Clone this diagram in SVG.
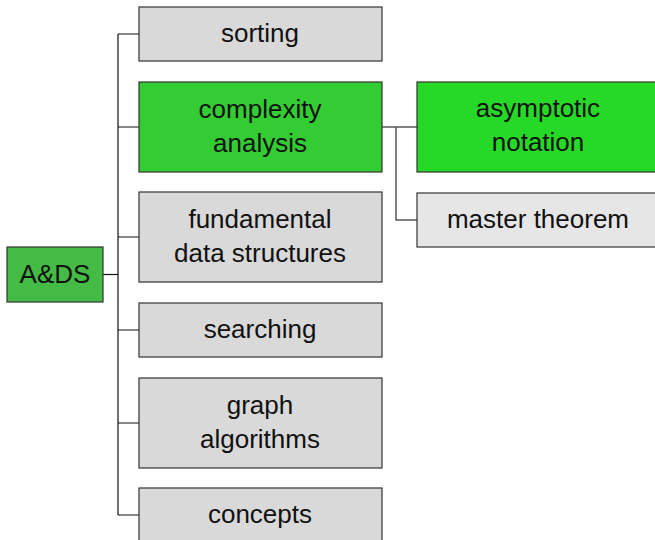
<svg xmlns="http://www.w3.org/2000/svg" width="655" height="540" viewBox="0 0 655 540">
<style>
.b{stroke:#333;stroke-width:1.2}
.g{fill:#d9d9d9}
.t{font-family:"Liberation Sans",Arial,sans-serif;font-size:26px;fill:#111;text-anchor:middle}
.c{fill:none;stroke:#111;stroke-width:1.2}
.c2{fill:none;stroke:#555;stroke-width:1.5}
</style>
<rect width="655" height="540" fill="#fff"/>
<g id="connectors">
<path class="c" d="M118 34V515M118 34H139M118 127H139M118 237H139M118 330H139M118 423H139M118 515H139"/>
<path class="c" d="M103 274.5H118" stroke-width="2.4"/>
<path class="c2" d="M382 127H417M396 127V220H417"/>
</g>
<g id="ads"><rect class="b" x="7" y="247" width="96" height="55" fill="#44bb44"/><text class="t" x="55" y="283">A&amp;DS</text></g>
<g id="sorting"><rect class="b g" x="139" y="7" width="243" height="54"/><text class="t" x="260" y="42">sorting</text></g>
<g id="complexity"><rect class="b" x="139" y="82" width="243" height="90" fill="#33cc33"/><text class="t" x="260" y="118">complexity</text><text class="t" x="260" y="152">analysis</text></g>
<g id="fundamental"><rect class="b g" x="139" y="192" width="243" height="90"/><text class="t" x="260" y="228">fundamental</text><text class="t" x="260" y="262">data structures</text></g>
<g id="searching"><rect class="b g" x="139" y="303" width="243" height="54"/><text class="t" x="260" y="338">searching</text></g>
<g id="graph"><rect class="b g" x="139" y="378" width="243" height="90"/><text class="t" x="260" y="414">graph</text><text class="t" x="260" y="448">algorithms</text></g>
<g id="concepts"><rect class="b g" x="139" y="488" width="243" height="60"/><text class="t" x="260" y="523">concepts</text></g>
<g id="asymptotic"><rect class="b" x="417" y="82" width="243" height="90" fill="#26d926"/><text class="t" x="538" y="117">asymptotic</text><text class="t" x="538" y="151">notation</text></g>
<g id="master"><rect class="b" x="417" y="193" width="243" height="54" fill="#e6e6e6"/><text class="t" x="538" y="228">master theorem</text></g>
</svg>
